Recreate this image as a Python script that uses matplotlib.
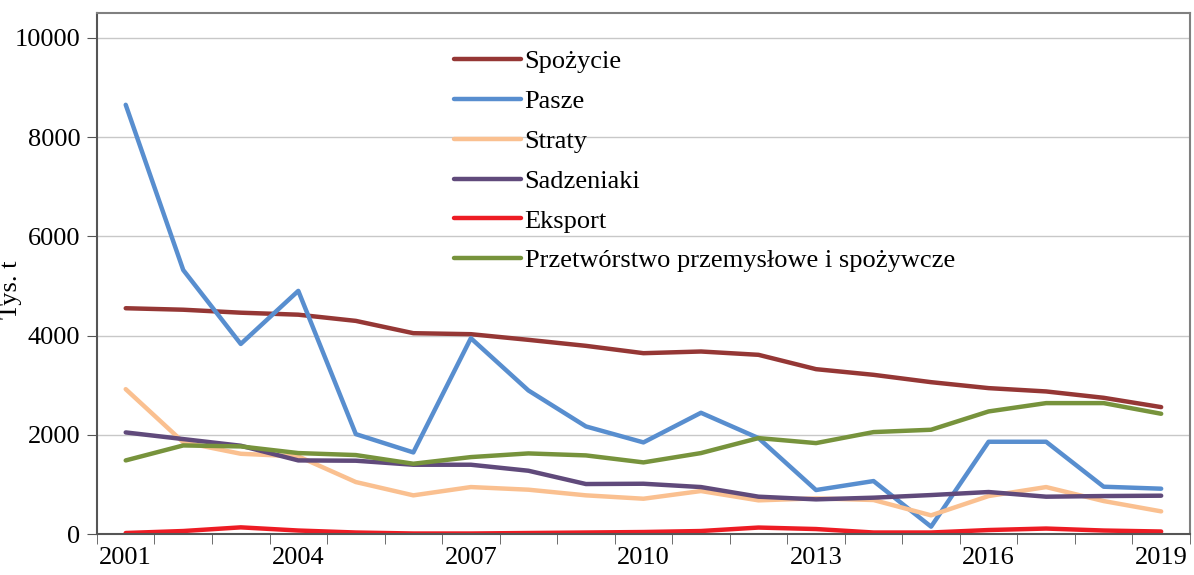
#%% imports
from matplotlib import pyplot as plt
import numpy as np

#%% dane
years = list(range(2001, 2020))
spozycie = [4550, 4520, 4460, 4420, 4295, 4047, 4027, 3913, 3792, 3644,
            3678, 3611, 3322, 3208, 3060, 2940, 2873, 2745, 2557]
pasze = [8650, 5320, 3830, 4900, 2013, 1644, 3946, 2893, 2168, 1846,
         2443, 1933, 886, 1067, 148, 1859, 1859, 953, 913]
straty = [2919, 1850, 1617, 1564, 1047, 779, 946, 893, 779, 711,
          866, 678, 718, 685, 376, 765, 946, 664, 456]
sadzeniaki = [2047, 1913, 1779, 1483, 1477, 1396, 1396, 1275, 1007, 1013,
              946, 752, 698, 732, 785, 846, 752, 765, 772]
eksport = [20, 60, 134, 70, 30, 10, 10, 20, 30, 40,
           60, 130, 100, 30, 30, 80, 110, 70, 50]
przetworstwo = [1483, 1785, 1765, 1631, 1591, 1416, 1550, 1624, 1584, 1443,
                1631, 1933, 1832, 2054, 2101, 2470, 2638, 2638, 2423]

series = [
    ("Spożycie", spozycie, "#953735"),
    ("Pasze", pasze, "#588ecf"),
    ("Straty", straty, "#fac090"),
    ("Sadzeniaki", sadzeniaki, "#604a7b"),
    ("Eksport", eksport, "#ed1c24"),
    ("Przetwórstwo przemysłowe i spożywcze", przetworstwo, "#77933c"),
]
tick_years = [2001, 2004, 2007, 2010, 2013, 2016, 2019]

#%% wykres
plt.rcParams['font.family'] = ['Liberation Serif', 'DejaVu Serif']
fig = plt.figure(figsize=(11.94, 5.75), dpi=100)
ax = fig.add_axes([0.0812, 0.0713, 0.9154, 0.9061])

for name, vals, col in series:
    ax.plot(years, vals, color=col, lw=3.2, label=name, solid_capstyle="round")

ax.set_xlim(2000.5, 2019.5)
ax.set_ylim(0, 10500)
ax.set_yticks(np.arange(0, 10001, 2000))
ax.set_xticks(tick_years)
ax.set_xticks(np.arange(2000.5, 2019.6, 1), minor=True)
ax.tick_params(axis="x", which="major", length=0, pad=9, labelsize=19)
ax.tick_params(axis="x", which="minor", length=7, direction="out", color="#555555")
ax.tick_params(axis="y", length=7, direction="out", color="#555555", labelsize=19, pad=5)
ax.grid(axis="y", color="#c8c8c8", lw=1)
ax.set_axisbelow(True)
for s in ax.spines.values():
    s.set_color("#808080")
    s.set_linewidth(1.5)
ax.spines["left"].set_color("#555555")
ax.spines["bottom"].set_color("#555555")
ax.set_ylabel("Tys. t", fontsize=19)
ax.yaxis.set_label_coords(-0.069, 0.468)

ax.legend(loc="upper left", bbox_to_anchor=(0.305, 0.975), frameon=False,
          fontsize=19, handlelength=2.55, handletextpad=0.12, labelspacing=0.62)

fig.savefig("out.png", dpi=100)
